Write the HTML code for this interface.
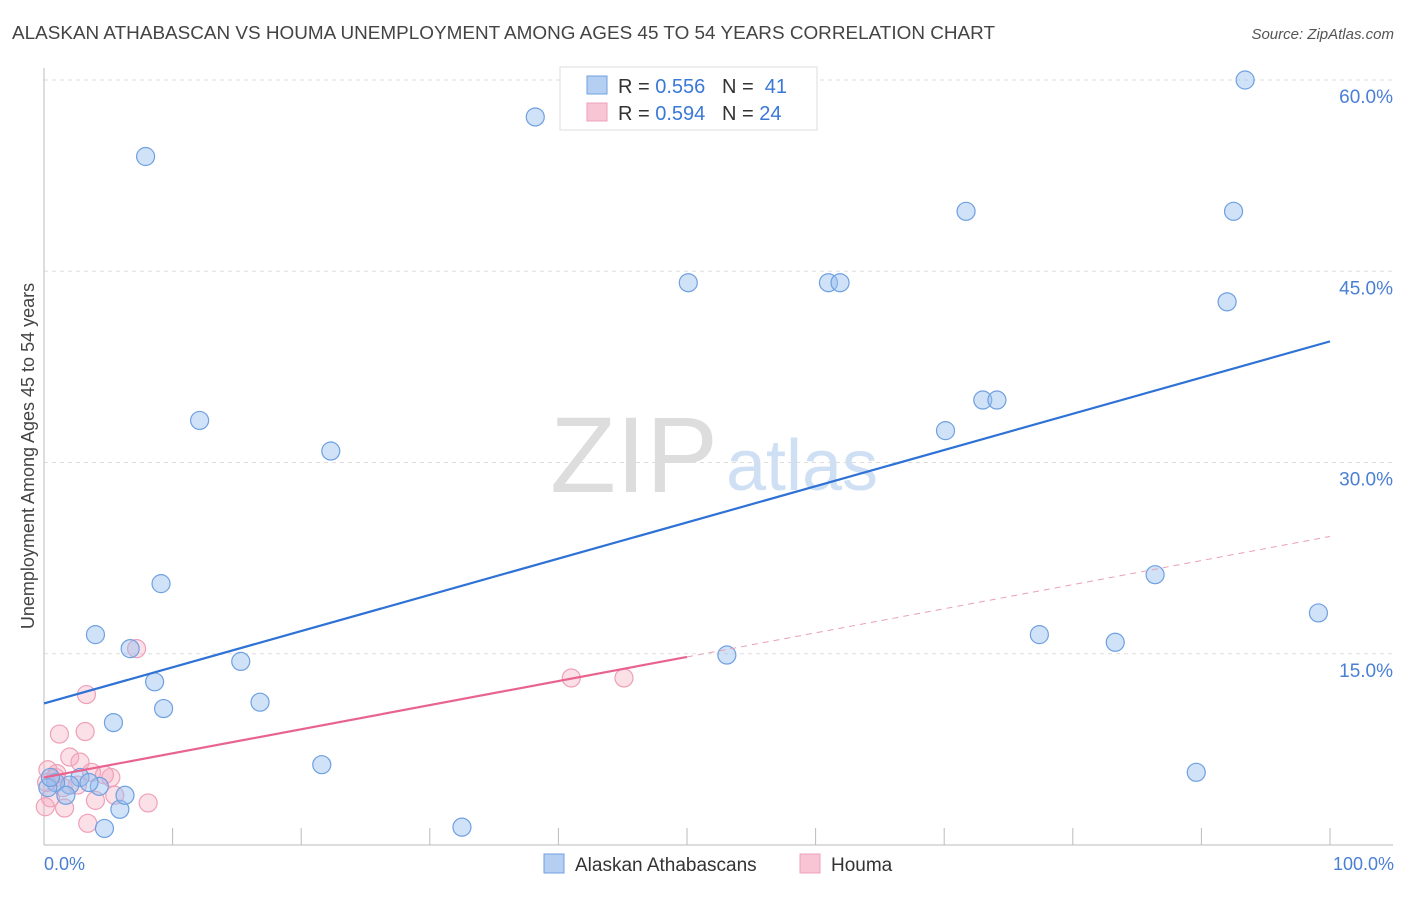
<!DOCTYPE html>
<html><head><meta charset="utf-8"><style>
body{margin:0;background:#fff;font-family:"Liberation Sans",sans-serif;}
svg text{font-family:"Liberation Sans",sans-serif;}
</style></head><body>
<svg width="1406" height="892">
<text x="12" y="39" font-size="18" fill="#444" textLength="983" lengthAdjust="spacingAndGlyphs">ALASKAN ATHABASCAN VS HOUMA UNEMPLOYMENT AMONG AGES 45 TO 54 YEARS CORRELATION CHART</text>
<text x="1394" y="39" font-size="15" fill="#555" text-anchor="end" font-style="italic">Source: ZipAtlas.com</text>
<text x="634" y="492" font-size="108" fill="#ddd" font-family="Liberation Serif" text-anchor="middle">ZIP</text>
<text x="802" y="490" font-size="72" fill="#cfe0f5" text-anchor="middle">atlas</text>
<g id="grid"></g>
<g id="axes"></g>
<g id="marks"></g>
<text transform="translate(34,456) rotate(-90)" font-size="18" fill="#444" text-anchor="middle">Unemployment Among Ages 45 to 54 years</text>
<text x="44" y="870" font-size="18" fill="#4a7fd4">0.0%</text>
<text x="1394" y="870" font-size="18" fill="#4a7fd4" text-anchor="end">100.0%</text>
<g>
<rect x="560" y="67" width="257" height="63" fill="#fff" stroke="#ddd"/>
<rect x="587" y="76" width="20" height="18" fill="#b5cff3" stroke="#6fa0e0"/>
<rect x="587" y="103" width="20" height="18" fill="#f8c5d5" stroke="#eea0b8"/>
<text x="618" y="93" font-size="20" fill="#333">R = <tspan fill="#3a78d8">0.556</tspan>&#160;&#160;&#160;N = <tspan fill="#3a78d8">&#160;41</tspan></text>
<text x="618" y="120" font-size="20" fill="#333">R = <tspan fill="#3a78d8">0.594</tspan>&#160;&#160;&#160;N = <tspan fill="#3a78d8">24</tspan></text>
</g>
<g>
<rect x="544" y="854" width="20" height="19" fill="#b5cff3" stroke="#6fa0e0"/>
<text x="575" y="871" font-size="19" fill="#333">Alaskan Athabascans</text>
<rect x="800" y="854" width="20" height="19" fill="#f8c5d5" stroke="#eea0b8"/>
<text x="831" y="871" font-size="19" fill="#333">Houma</text>
</g>
</svg>
<script>
const yTicks=[15,30,45,60];
const blueX=[93.4,38.2,7.9,71.7,92.5,50.1,61.0,61.9,92.0,73.0,74.1,70.1,12.1,22.3,9.1,86.4,99.1,4.0,77.4,83.3,6.7,53.1,15.3,8.6,9.3,16.8,5.4,21.6,89.6,32.5,4.7,5.9,6.3,4.3,2.8,2.0,0.9,0.3,1.7,3.5,0.5];
const blueY=[60.0,57.1,54.0,49.7,49.7,44.1,44.1,44.1,42.6,34.9,34.9,32.5,33.3,30.9,20.5,21.2,18.2,16.5,16.5,15.9,15.4,14.9,14.4,12.8,10.7,11.2,9.6,6.3,5.7,1.4,1.3,2.8,3.9,4.6,5.3,4.7,4.9,4.5,3.9,4.9,5.3];
const pinkX=[7.2,41.0,45.1,3.3,1.2,3.2,2.0,2.8,3.7,5.2,4.7,0.3,0.9,1.5,4.0,8.1,5.5,1.6,3.4,0.5,0.2,1.0,2.6,0.1];
const pinkY=[15.4,13.1,13.1,11.8,8.7,8.9,6.9,6.5,5.7,5.3,5.5,5.9,5.3,4.5,3.5,3.3,3.9,2.9,1.7,3.7,4.9,5.6,4.7,3.0];
const blueTrend=[11.1,39.5];
const pinkTrend=[5.3,24.2];
const pinkSolidEnd=50;
const X=v=>44+v*12.86, Y=v=>845-v*12.75;
const NS='http://www.w3.org/2000/svg';
function mk(t,a,p){const e=document.createElementNS(NS,t);for(const k in a)e.setAttribute(k,a[k]);p.appendChild(e);return e;}
const grid=document.getElementById('grid'),axes=document.getElementById('axes'),marks=document.getElementById('marks');
yTicks.forEach(t=>{
 const l=mk('line',{x1:44,x2:1393,y1:Y(t),y2:Y(t),stroke:'#ddd','stroke-dasharray':'4,4'},grid);
 
 
 const tx=mk('text',{x:1393,y:Y(t)+23,'font-size':19,fill:'#4a7fd4','text-anchor':'end'},grid);
 tx.textContent=t.toFixed(1)+'%';
 
 
});
const ya=mk('line',{x1:44,x2:44,y1:68,y2:845,stroke:'#bbb'},axes);


const xa=mk('line',{x1:44,x2:1393,y1:845,y2:845,stroke:'#bbb'},axes);


for(let i=1;i<=10;i++){const t=mk('line',{x1:X(i*10),x2:X(i*10),y1:828,y2:845,stroke:'#bbb'},axes);
 
 }
function pts(xs,ys,fill,stroke,name){xs.forEach((x,i)=>{const c=mk('circle',{cx:X(x),cy:Y(ys[i]),r:9,fill:fill,stroke:stroke,'stroke-width':1.2},marks);
 
 });}
pts(pinkX,pinkY,'rgba(245,165,190,0.35)','#eea0b8','houma-point');
pts(blueX,blueY,'rgba(150,190,240,0.45)','#6fa0e0','alaskan-point');
const bl=mk('line',{x1:X(0),y1:Y(blueTrend[0]),x2:X(100),y2:Y(blueTrend[1]),stroke:'#2f72d6','stroke-width':2.2},marks);


const pm=v=>pinkTrend[0]+(pinkTrend[1]-pinkTrend[0])*v/100;
const pl=mk('line',{x1:X(0),y1:Y(pm(0)),x2:X(pinkSolidEnd),y2:Y(pm(pinkSolidEnd)),stroke:'#e8648f','stroke-width':2.2},marks);


const pd=mk('line',{x1:X(pinkSolidEnd),y1:Y(pm(pinkSolidEnd)),x2:X(100),y2:Y(pm(100)),stroke:'#e8a0b5','stroke-width':1,'stroke-dasharray':'6,5'},marks);


</script>
</body></html>
